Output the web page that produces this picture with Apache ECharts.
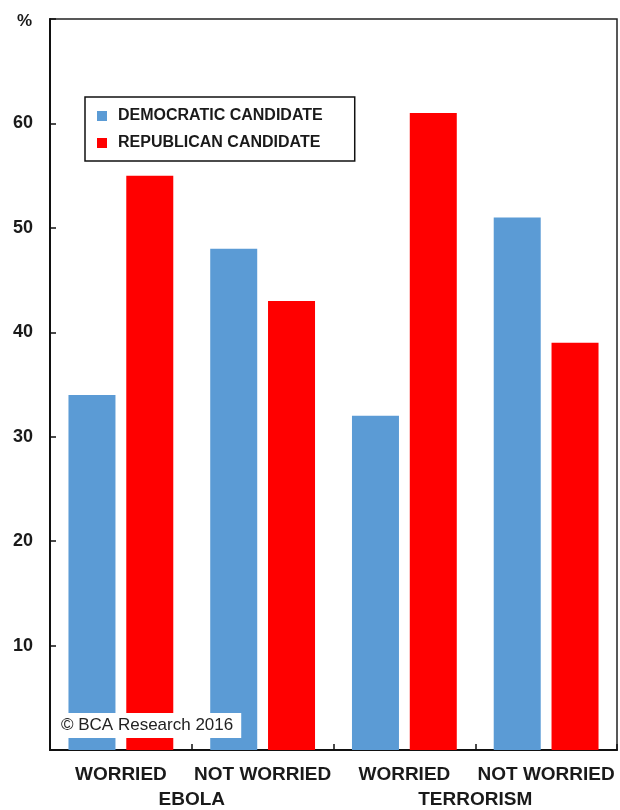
<!DOCTYPE html>
<html>
<head>
<meta charset="utf-8">
<script src="https://cdn.jsdelivr.net/npm/echarts@6/dist/echarts.min.js"></script>
<style>
  html, body { margin: 0; padding: 0; background: #fff; }
  #chart { width: 620px; height: 810px; }
</style>
</head>
<body>
<div id="chart"></div>
<script>
// Vote preference by concern: Ebola and terrorism
const categories = ['WORRIED', 'NOT WORRIED', 'WORRIED', 'NOT WORRIED'];
const groups = ['EBOLA', 'TERRORISM'];
const democratic = [34, 48, 32, 51];
const republican = [55, 43, 61, 39];
const seriesNames = ['DEMOCRATIC CANDIDATE', 'REPUBLICAN CANDIDATE'];

const FONT = '"Liberation Sans", Arial, sans-serif';
const INK = '#1a1a1a';

const chart = echarts.init(document.getElementById('chart'), null, { renderer: 'canvas' });

chart.setOption({
  backgroundColor: '#ffffff',
  animation: false,
  textStyle: { fontFamily: FONT },
  title: [
    {
      text: '%',
      left: 12, top: 8,
      textStyle: { fontFamily: FONT, fontSize: 17, fontWeight: 'bold', color: INK }
    },
    {
      text: '© BCA Research 2016',
      left: 51, top: 713,
      backgroundColor: '#ffffff',
      padding: [4, 8, 4, 10],
      textStyle: { fontFamily: FONT, fontSize: 17, fontWeight: 'normal', color: '#222' }
    }
  ],
  legend: {
    data: seriesNames,
    orient: 'vertical',
    left: 85, top: 97,
    backgroundColor: '#ffffff',
    borderColor: '#111',
    borderWidth: 1.5,
    padding: [11, 32, 10, 12],
    itemWidth: 10, itemHeight: 10,
    itemGap: 11,
    icon: 'rect',
    textStyle: { fontFamily: FONT, fontSize: 16, fontWeight: 'bold', color: INK, padding: [0, 0, 0, 6] }
  },
  grid: {
    left: 50, right: 3, top: 19, bottom: 60,
    show: true, borderColor: '#222', borderWidth: 1.5
  },
  xAxis: [
    {
      type: 'category',
      data: categories,
      position: 'bottom',
      axisLine: { show: true, lineStyle: { color: '#111', width: 2 } },
      axisTick: { show: true, inside: true, length: 6, lineStyle: { color: '#111', width: 1.5 } },
      axisLabel: { margin: 15, fontFamily: FONT, fontSize: 19, fontWeight: 'bold', color: INK, interval: 0 }
    },
    {
      type: 'category',
      data: groups,
      position: 'bottom',
      offset: 25,
      axisLine: { show: false },
      axisTick: { show: false },
      axisLabel: { margin: 15, fontFamily: FONT, fontSize: 19, fontWeight: 'bold', color: INK, interval: 0 }
    }
  ],
  yAxis: {
    type: 'value',
    min: 0, max: 70, interval: 10,
    splitLine: { show: false },
    axisLine: { show: true, lineStyle: { color: '#111', width: 2 } },
    axisTick: { show: true, inside: true, length: 6, lineStyle: { color: '#111', width: 1.5 } },
    axisLabel: {
      margin: 17,
      fontFamily: FONT, fontSize: 18, fontWeight: 'bold', color: INK,
      formatter: v => (v === 0 || v === 70) ? '' : String(v)
    }
  },
  series: [
    {
      name: seriesNames[0],
      type: 'bar',
      xAxisIndex: 0,
      data: democratic,
      barWidth: 47,
      barGap: '23%',
      itemStyle: { color: '#5b9bd5' }
    },
    {
      name: seriesNames[1],
      type: 'bar',
      xAxisIndex: 0,
      data: republican,
      barWidth: 47,
      barGap: '23%',
      itemStyle: { color: '#ff0000' }
    }
  ]
});
</script>
</body>
</html>
